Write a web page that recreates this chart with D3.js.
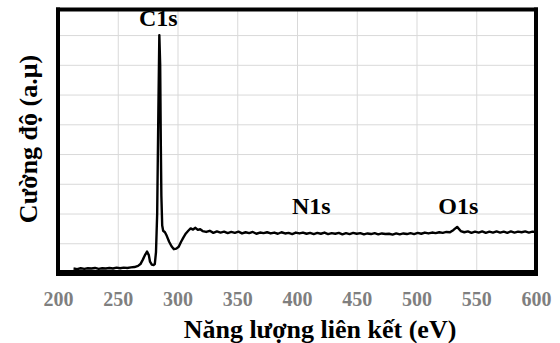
<!DOCTYPE html>
<html>
<head>
<meta charset="utf-8">
<script src="https://cdn.jsdelivr.net/npm/d3@7"></script>
<style>
  body { margin: 0; background: #fff; }
  text { font-family: "Liberation Serif", "Times New Roman", serif; font-weight: bold; }
</style>
</head>
<body>
<svg id="chart" width="560" height="343"></svg>
<script>
// XPS survey spectrum, intensity in arbitrary units (one unit = one gridline)
var energy = [213, 216, 219, 222, 225, 228, 231, 234, 237, 240, 243, 246, 249, 252, 255, 258, 261, 264, 267, 269, 271, 273, 274.5, 276, 277, 278.5, 280, 281, 282, 283, 284, 284.8, 285.5, 286, 286.5, 287.2, 288, 289.5, 291, 293, 295, 297, 299, 301, 303, 305, 307, 309, 311, 313, 315, 317, 319, 321,
  324, 327, 330, 333, 336, 339, 342, 345, 348, 351, 354, 357, 360, 363, 366, 369, 372, 375, 378, 381, 384, 387, 390, 393, 396, 399,
  402, 405, 408, 411, 414, 417, 420, 423, 426, 429, 432, 435, 438, 441, 444, 447, 450, 453, 456, 459, 462, 465, 468, 471, 474, 477,
  480, 483, 486, 489, 492, 495, 498, 501, 504, 507, 510, 513, 516, 519, 522, 525, 528, 531, 534, 537, 540, 543, 546, 549, 552, 555,
  558, 561, 564, 567, 570, 573, 576, 579, 582, 585, 588, 591, 594, 597, 600];
var intensity = [0.15, 0.13, 0.16, 0.14, 0.16, 0.15, 0.17, 0.14, 0.16, 0.15, 0.17, 0.15, 0.18, 0.16, 0.18, 0.17, 0.19, 0.2, 0.24, 0.3, 0.45, 0.62, 0.72, 0.6, 0.38, 0.28, 0.27, 0.3, 0.7, 2.0, 5.5, 8.0, 7.0, 4.5, 2.6, 1.6, 1.42, 1.37, 1.25, 1.05, 0.9, 0.8, 0.82, 0.88, 1.05, 1.2, 1.33, 1.42, 1.5, 1.46, 1.52, 1.45, 1.47, 1.41,
  1.38, 1.42, 1.35, 1.40, 1.36, 1.39, 1.34, 1.38, 1.35, 1.39, 1.33, 1.37, 1.34, 1.38, 1.32, 1.36, 1.34, 1.37, 1.33, 1.36, 1.32, 1.37, 1.33, 1.35, 1.31, 1.36,
  1.33, 1.36, 1.32, 1.35, 1.31, 1.35, 1.32, 1.36, 1.31, 1.34, 1.32, 1.35, 1.30, 1.34, 1.31, 1.35, 1.32, 1.34, 1.30, 1.33, 1.31, 1.34, 1.30, 1.33, 1.31, 1.32,
  1.29, 1.33, 1.30, 1.33, 1.31, 1.34, 1.31, 1.35, 1.32, 1.36, 1.33, 1.36, 1.34, 1.37, 1.35, 1.38, 1.37, 1.45, 1.55, 1.41, 1.37, 1.40, 1.35, 1.39, 1.36, 1.40,
  1.35, 1.39, 1.36, 1.40, 1.36, 1.39, 1.35, 1.40, 1.36, 1.39, 1.37, 1.40, 1.36, 1.39, 1.38];
var xTicks = [200, 250, 300, 350, 400, 450, 500, 550, 600];
var yGrid = [1, 2, 3, 4, 5, 6, 7, 8];
var peakLabels = ["C1s", "N1s", "O1s"];
var peakPos = [[284, 8.3], [412, 1.98], [535, 1.98]];

var margin = {top: 9.5, right: 24, bottom: 70, left: 58};
var width = 560 - margin.left - margin.right;
var height = 343 - margin.top - margin.bottom;

var svg = d3.select("#chart");
var g = svg.append("g").attr("transform", "translate(" + margin.left + "," + margin.top + ")");

var x = d3.scaleLinear().domain([200, 600]).range([0, width]);
var y = d3.scaleLinear().domain([0, 8.86]).range([height, 0]);

// gridlines
g.append("g")
  .attr("transform", "translate(0," + height + ")")
  .call(d3.axisBottom(x).tickValues(xTicks).tickSize(-height).tickFormat(""))
  .call(s => s.select(".domain").remove())
  .selectAll("line").attr("stroke", "#d9d9d9").attr("stroke-width", 1);

g.append("g")
  .call(d3.axisLeft(y).tickValues(yGrid).tickSize(-width).tickFormat(""))
  .call(s => s.select(".domain").remove())
  .selectAll("line").attr("stroke", "#d9d9d9").attr("stroke-width", 1);

// x tick labels
var xAxis = g.append("g")
  .attr("transform", "translate(0," + height + ")")
  .call(d3.axisBottom(x).tickValues(xTicks).tickSize(0).tickFormat(d3.format("d")));
xAxis.select(".domain").remove();
xAxis.selectAll("text")
  .attr("y", 33).attr("dy", 0)
  .attr("fill", "#7f7f7f")
  .style("font-family", "'Liberation Serif', serif")
  .style("font-weight", "bold")
  .style("font-size", "20px");

// spectrum
var pts = energy.map((e, i) => [e, intensity[i]]);
var line = d3.line().x(d => x(d[0])).y(d => y(d[1]));
g.append("path")
  .datum(pts)
  .attr("d", line)
  .attr("fill", "none")
  .attr("stroke", "#000")
  .attr("stroke-width", 2.4)
  .attr("stroke-linejoin", "round");

// frame as filled bars: left, top, right, bottom (bottom a bit thicker)
var x0 = x(200), x1 = x(600), y0 = y(0), y1 = y.range()[1];
var frame = [
  [x0 - 2, y1 - 2, 4, y0 - y1 + 4],
  [x0 - 2, y1 - 2, x1 - x0 + 4, 4],
  [x1 - 2, y1 - 2, 4, y0 - y1 + 4],
  [x0 - 2, y0 - 3, x1 - x0 + 4, 6]
];
g.selectAll(".frame")
  .data(frame)
  .enter()
  .append("rect")
  .attr("class", "frame")
  .attr("x", d => d[0]).attr("y", d => d[1])
  .attr("width", d => d[2]).attr("height", d => d[3])
  .attr("fill", "#000");

// peak labels
g.selectAll(".peak")
  .data(peakLabels)
  .enter()
  .append("text")
  .attr("class", "peak")
  .attr("x", (d, i) => x(peakPos[i][0]))
  .attr("y", (d, i) => y(peakPos[i][1]))
  .attr("text-anchor", "middle")
  .style("font-size", "24px")
  .text(d => d);

// axis titles
svg.append("text")
  .attr("x", 320).attr("y", 338)
  .attr("text-anchor", "middle")
  .style("font-size", "26px")
  .text("Năng lượng liên kết (eV)");

svg.append("text")
  .attr("transform", "translate(37,139) rotate(-90)")
  .attr("text-anchor", "middle")
  .style("font-size", "26px")
  .text("Cường độ (a.μ)");
</script>
</body>
</html>
